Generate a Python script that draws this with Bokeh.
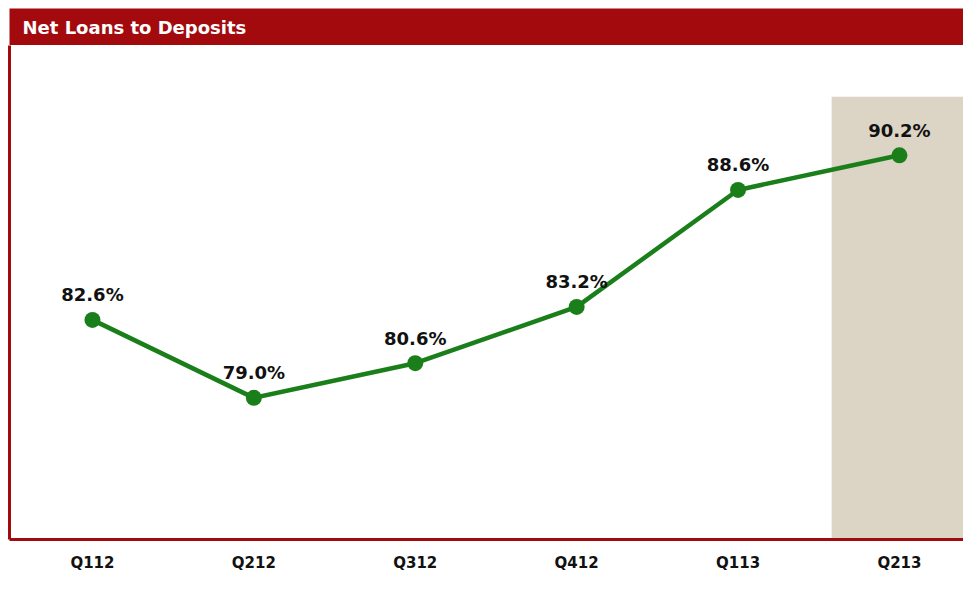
from bokeh.plotting import figure
from bokeh.models import Range1d, FixedTicker, Label, ColumnDataSource
from bokeh.layouts import column
from bokeh.core.properties import value
from bokeh.embed import file_html
from bokeh.resources import INLINE

TITLE = "Net Loans to Deposits"
QUARTERS = ["Q112", "Q212", "Q312", "Q412", "Q113", "Q213"]
RATIOS = [82.6, 79.0, 80.6, 83.2, 88.6, 90.2]
HIGHLIGHT = "Q213"
HIGHLIGHT_TOP = 92.9

RED = "#A20A0E"
GREEN = "#1A7F1A"
TAN = "#DCD4C4"
W = 963
TOP_H = 45
MAIN_H = 529

# Title bar
top = figure(width=W, height=TOP_H, x_range=Range1d(0, 1), y_range=Range1d(0, 1),
             toolbar_location=None, output_backend="svg",
             min_border_left=8, min_border_top=8, min_border_right=0, min_border_bottom=0,
             x_axis_type=None, y_axis_type=None)
top.background_fill_color = RED
top.border_fill_color = "white"
top.outline_line_color = None
top.add_layout(Label(x=0, y=0.5, x_offset=13, text=TITLE,
                     text_color="white", text_font="DejaVu Sans", text_font_style="bold",
                     text_font_size="18px", text_baseline="middle", text_align="left"))

# Main chart
xs = list(range(len(QUARTERS)))
src = ColumnDataSource(dict(x=xs, y=RATIOS, lab=[f"{v:.1f}%" for v in RATIOS]))
y0, y1 = 72.46, 95.27
p = figure(width=W, height=MAIN_H, x_range=Range1d(-0.514, 5.397), y_range=Range1d(y0, y1),
           toolbar_location=None, output_backend="svg",
           min_border_left=9, min_border_right=0, min_border_top=0, min_border_bottom=34)
p.outline_line_color = None
p.background_fill_color = "white"
p.border_fill_color = "white"
p.xgrid.visible = False
p.ygrid.visible = False

hx = QUARTERS.index(HIGHLIGHT)
p.vbar(x=[hx], width=0.84, top=[HIGHLIGHT_TOP], bottom=y0, fill_color=TAN, line_color=None)

p.line("x", "y", source=src, line_color=GREEN, line_width=4.5)
p.scatter("x", "y", source=src, size=16, fill_color=GREEN, line_color=None)
p.text("x", "y", text="lab", source=src, text_font=value("DejaVu Sans"),
       text_font_style="bold", text_font_size="18px", text_color="#111111",
       text_align="center", text_baseline="middle", y_offset=-25)

xa = p.xaxis[0]
xa.ticker = FixedTicker(ticks=xs)
xa.major_label_overrides = {i: q for i, q in enumerate(QUARTERS)}
xa.major_tick_line_color = None
xa.minor_tick_line_color = None
xa.major_tick_out = 0
xa.major_tick_in = 0
xa.axis_line_color = RED
xa.axis_line_width = 3
xa.major_label_text_font = "DejaVu Sans"
xa.major_label_text_font_style = "bold"
xa.major_label_text_font_size = "15px"
xa.major_label_text_color = "#111111"
xa.major_label_standoff = 14

ya = p.yaxis[0]
ya.ticker = FixedTicker(ticks=[])
ya.major_label_text_font_size = "0px"
ya.major_tick_line_color = None
ya.minor_tick_line_color = None
ya.major_tick_out = 0
ya.major_label_standoff = 0
ya.axis_line_color = RED
ya.axis_line_width = 3

layout = column(top, p, spacing=0)
open("out.html", "w").write(file_html(layout, INLINE))
